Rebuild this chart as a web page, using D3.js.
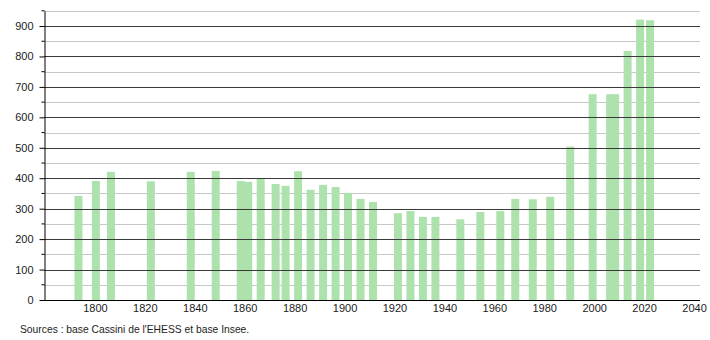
<!DOCTYPE html>
<html lang="fr">
  <head>
    <meta charset="UTF-8" />
    <title>Population</title>
    <script src="https://cdn.jsdelivr.net/npm/d3@7"></script>
    <style>
      body { margin: 0; background: #fff; }
      svg text { font-family: "Liberation Sans", Arial, sans-serif; fill: #222; }
    </style>
  </head>
  <body>
    <div id="container"></div>
    <script>
      // data
      const years = [1793, 1800, 1806, 1822, 1838, 1848, 1858, 1861, 1866, 1872, 1876, 1881,
        1886, 1891, 1896, 1901, 1906, 1911, 1921, 1926, 1931, 1936, 1946, 1954, 1962,
        1968, 1975, 1982, 1990, 1999, 2006, 2008, 2013, 2018, 2022]
      const population = [342, 391, 421, 390, 421, 424, 391, 388, 398, 381, 375, 423,
        362, 378, 371, 352, 332, 322, 285, 292, 273, 273, 265, 289, 292,
        332, 331, 339, 504, 676, 676, 676, 818, 921, 919]
      const xTicks = [1800, 1820, 1840, 1860, 1880, 1900, 1920, 1940, 1960, 1980, 2000, 2020, 2040]
      const yTicks = [0, 100, 200, 300, 400, 500, 600, 700, 800, 900]
      const source = "Sources : base Cassini de l'EHESS et base Insee."

      const dataset = years.map((y, i) => ({ year: y, pop: population[i] }))

      const width = 710
      const height = 340
      const left = 44
      const right = 700
      const bottom = 300

      const xScale = d3.scaleLinear().domain([1780, 2042]).range([45, 699])
      const yScale = d3.scaleLinear().domain([0, 950]).range([bottom, 10.8])

      const svg = d3.create('svg')
        .attr('width', width)
        .attr('height', height)
        .attr('viewBox', [0, 0, width, height])

      // light lines on the 50s
      svg.append('g')
        .selectAll()
        .data(d3.range(50, 1000, 100))
        .join('line')
        .attr('x1', left).attr('x2', right)
        .attr('y1', d => Math.round(yScale(d)) + 0.5)
        .attr('y2', d => Math.round(yScale(d)) + 0.5)
        .attr('stroke', '#c8c8c8')

      // bars
      svg.append('g')
        .attr('fill', '#ade2ad')
        .selectAll()
        .data(dataset)
        .join('rect')
        .attr('x', d => xScale(d.year) - 3)
        .attr('width', 8)
        .attr('y', d => yScale(d.pop))
        .attr('height', d => bottom - yScale(d.pop))

      // dark lines on the 100s, drawn above the bars
      svg.append('g')
        .selectAll()
        .data(yTicks.slice(1))
        .join('line')
        .attr('x1', left).attr('x2', right)
        .attr('y1', d => Math.round(yScale(d)) + 0.5)
        .attr('y2', d => Math.round(yScale(d)) + 0.5)
        .attr('stroke', '#3a3a3a')

      // y axis
      const yAxis = svg.append('g')
        .attr('transform', `translate(${left + 0.5}, 0)`)
        .call(d3.axisLeft(yScale).tickValues(yTicks).tickSize(5).tickPadding(6).tickSizeOuter(0))
      yAxis.select('.domain').attr('stroke', '#000')
      yAxis.selectAll('.tick line').attr('stroke', '#000')
      yAxis.selectAll('text').attr('font-size', 11).attr('fill', '#222')
      // minor ticks
      yAxis.append('g')
        .selectAll()
        .data(d3.range(50, 1000, 100))
        .join('line')
        .attr('x1', -3).attr('x2', 0)
        .attr('y1', d => yScale(d)).attr('y2', d => yScale(d))
        .attr('stroke', '#000')

      // x axis
      const xAxis = svg.append('g')
        .attr('transform', `translate(0, ${bottom + 0.5})`)
        .call(d3.axisBottom(xScale).tickValues(xTicks).tickFormat(d3.format('d')).tickSize(0).tickPadding(4).tickSizeOuter(0))
      xAxis.select('.domain').attr('stroke', '#000').attr('d', `M${left},0H${right}`)
      xAxis.selectAll('text').attr('font-size', 11).attr('fill', '#222')

      svg.append('text')
        .attr('x', 20)
        .attr('y', 333)
        .attr('font-size', 10.3)
        .text(source)

      container.append(svg.node())
    </script>
  </body>
</html>
